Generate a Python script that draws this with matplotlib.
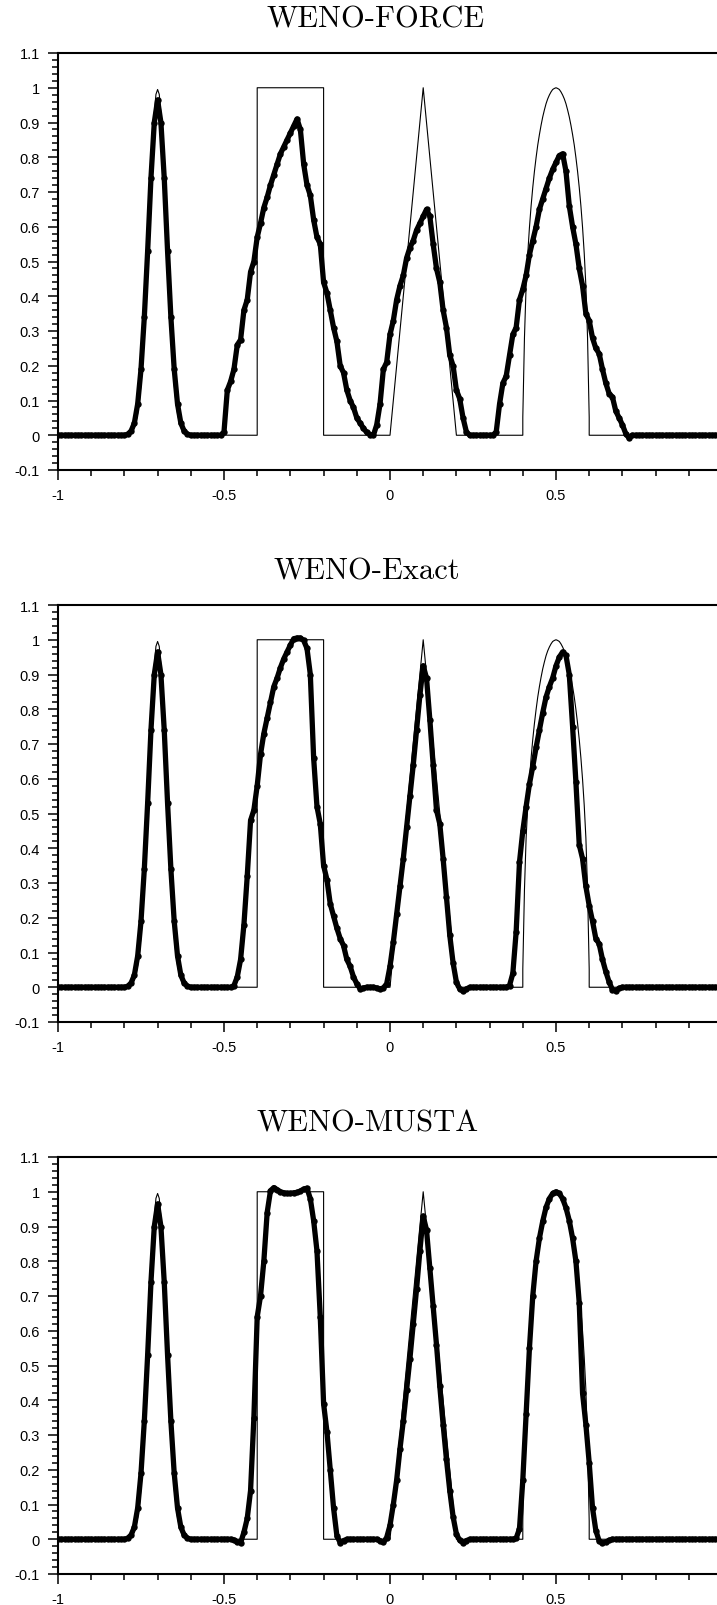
import numpy as np
import matplotlib
matplotlib.use('Agg')
import matplotlib.pyplot as plt
from matplotlib.ticker import MultipleLocator, FuncFormatter

plt.rcParams['font.family'] = ['Liberation Sans', 'DejaVu Sans']
plt.rcParams['axes.unicode_minus'] = False

# mesh of the numerical solution, -1 .. 1 step 0.01
x_grid = np.round(np.arange(201) * 0.01 - 1.0, 2)

titles = ['WENO-FORCE', 'WENO-Exact', 'WENO-MUSTA']

# exact solution
gauss_x = np.round(np.arange(41) * 0.005 - 0.8, 3)
gauss_exact = [0.0005, 0.001, 0.002, 0.0038, 0.0072, 0.013, 0.023, 0.039, 0.0625, 0.097,
               0.146, 0.21, 0.292, 0.389, 0.5, 0.618, 0.735, 0.841, 0.926, 0.981,
               0.995,
               0.981, 0.926, 0.841, 0.735, 0.618, 0.5, 0.389, 0.292, 0.21, 0.146,
               0.097, 0.0625, 0.039, 0.023, 0.013, 0.0072, 0.0038, 0.002, 0.001, 0.0005]
ellipse_x = np.round(np.arange(41) * 0.005 + 0.4, 3)
ellipse_exact = [0.052, 0.281, 0.430, 0.524, 0.598, 0.660, 0.713, 0.759, 0.799, 0.835,
                 0.865, 0.892, 0.916, 0.936, 0.954, 0.968, 0.979, 0.988, 0.995, 0.998,
                 1.0,
                 0.998, 0.995, 0.988, 0.979, 0.968, 0.954, 0.936, 0.916, 0.892, 0.865,
                 0.835, 0.799, 0.759, 0.713, 0.660, 0.598, 0.524, 0.430, 0.281, 0.052]
pieces_x = [-0.4, -0.4, -0.2, -0.2, 0.0, 0.1, 0.2, 0.4]
pieces_y = [0.0, 1.0, 1.0, 0.0, 0.0, 1.0, 0.0, 0.0]

exact_x = [-1.0] + list(gauss_x) + pieces_x + list(ellipse_x) + [0.6, 1.0]
exact_y = [0.0] + gauss_exact + pieces_y + ellipse_exact + [0.0, 0.0]

# numerical solutions, one value per mesh point
gauss_num = [0.0, 0.003, 0.012, 0.035, 0.09, 0.19, 0.34, 0.53, 0.74, 0.90,
             0.965,
             0.90, 0.74, 0.53, 0.34, 0.19, 0.09, 0.035, 0.012, 0.003, 0.0]

force = ([0.0] * 20 + gauss_num + [0.0] * 9 +
         # -0.50 .. -0.05
         [0.01, 0.13, 0.155, 0.19, 0.26, 0.275, 0.36, 0.39, 0.47, 0.50,
          0.57, 0.61, 0.655, 0.685, 0.72, 0.75, 0.78, 0.81, 0.83, 0.85,
          0.87, 0.89, 0.91, 0.88, 0.78, 0.72, 0.69, 0.62, 0.57, 0.55,
          0.44, 0.41, 0.36, 0.31, 0.27, 0.20, 0.18, 0.13, 0.10, 0.08,
          0.05, 0.035, 0.02, 0.008, 0.002, 0.0] +
         # -0.04 .. 0.23
         [0.03, 0.09, 0.19, 0.21, 0.29, 0.33, 0.39, 0.43, 0.46, 0.51,
          0.54, 0.56, 0.59, 0.61, 0.63, 0.65, 0.63, 0.55, 0.48, 0.44,
          0.36, 0.31, 0.23, 0.20, 0.13, 0.105, 0.05, 0.01] +
         [0.0] * 8 +
         # 0.32 .. 0.73
         [0.01, 0.09, 0.15, 0.17, 0.23, 0.29, 0.31, 0.39, 0.42, 0.46,
          0.52, 0.56, 0.60, 0.65, 0.68, 0.71, 0.74, 0.765, 0.785, 0.805,
          0.81, 0.76, 0.66, 0.60, 0.55, 0.48, 0.43, 0.35, 0.33, 0.28,
          0.25, 0.235, 0.19, 0.15, 0.12, 0.11, 0.07, 0.05, 0.03, 0.005,
          -0.008, 0.0] +
         [0.0] * 27)

exact_rs = ([0.0] * 20 + gauss_num + [0.0] * 12 +
            # -0.47 .. -0.02
            [0.005, 0.03, 0.08, 0.18, 0.32, 0.48, 0.51, 0.58, 0.67, 0.73,
             0.775, 0.82, 0.865, 0.89, 0.92, 0.945, 0.965, 0.985, 1.003, 1.005,
             1.005, 0.998, 0.975, 0.90, 0.66, 0.52, 0.47, 0.35, 0.31, 0.24,
             0.205, 0.17, 0.14, 0.12, 0.08, 0.06, 0.03, 0.01, -0.004, -0.002,
             0.0, 0.0, 0.0, -0.002, -0.005, -0.002] +
            # -0.01 .. 0.24
            [0.01, 0.06, 0.13, 0.21, 0.29, 0.37, 0.46, 0.55, 0.64, 0.74,
             0.84, 0.925, 0.89, 0.77, 0.64, 0.51, 0.47, 0.37, 0.26, 0.15,
             0.07, 0.015, -0.005, -0.01, -0.005, 0.0] +
            [0.0] * 11 +
            # 0.36 .. 0.69
            [0.005, 0.04, 0.16, 0.36, 0.45, 0.52, 0.585, 0.635, 0.69, 0.74,
             0.79, 0.835, 0.865, 0.89, 0.925, 0.95, 0.965, 0.955, 0.90, 0.75,
             0.59, 0.41, 0.37, 0.29, 0.235, 0.19, 0.14, 0.125, 0.08, 0.045,
             0.015, -0.007, -0.01, -0.003] +
            [0.0] * 31)

musta = ([0.0] * 20 + gauss_num + [0.0] * 12 +
         # -0.47 .. -0.14
         [-0.002, -0.008, -0.01, 0.02, 0.06, 0.14, 0.35, 0.64, 0.70, 0.80,
          0.94, 1.003, 1.012, 1.006, 1.0, 0.997, 0.995, 0.995, 0.997, 0.998,
          1.002, 1.008, 1.01, 0.98, 0.917, 0.83, 0.64, 0.39, 0.31, 0.20,
          0.09, 0.01, -0.01, -0.004] +
         [0.0] * 10 +
         # -0.03 .. 0.24
         [-0.004, -0.009, 0.005, 0.04, 0.10, 0.17, 0.26, 0.34, 0.43, 0.52,
          0.62, 0.72, 0.83, 0.93, 0.89, 0.78, 0.67, 0.56, 0.44, 0.33,
          0.23, 0.14, 0.065, 0.015, -0.003, -0.01, -0.004, 0.0] +
         [0.0] * 13 +
         # 0.38 .. 0.66
         [0.003, 0.03, 0.17, 0.36, 0.55, 0.70, 0.80, 0.866, 0.915, 0.955,
          0.98, 0.995, 1.0, 0.995, 0.98, 0.954, 0.917, 0.866, 0.80, 0.68,
          0.42, 0.33, 0.22, 0.09, 0.025, -0.005, -0.011, -0.008, -0.003] +
         [0.0] * 34)

numerical = [force, exact_rs, musta]
for series in numerical:
    assert len(series) == len(x_grid), len(series)

W, H = 717, 1606
fig = plt.figure(figsize=(W / 100, H / 100), dpi=100)

panel_top = [54, 606, 1158]
panel_h = 417
title_cx = [376, 367, 368]


def fmt(v, pos):
    if abs(v) < 1e-9:
        return '0'
    if v > 0.999 and v < 1.001 and pos is not None and pos >= 4:
        return ''
    return '%g' % round(v, 2)


def fmt_x(v, pos):
    # label at x = 1 falls outside the picture
    if v > 0.999:
        return ''
    return fmt(v, None)


for k in range(3):
    top = panel_top[k]
    ax = fig.add_axes([58 / W, (H - top - panel_h) / H, 664 / W, panel_h / H])
    ax.plot(exact_x, exact_y, color='black', lw=0.8, zorder=2)
    ax.plot(x_grid, numerical[k], color='black', lw=3.8, marker='o', ms=4.6,
            mew=0, zorder=3)
    ax.set_xlim(-1, 1)
    ax.set_ylim(-0.1, 1.1)
    ax.xaxis.set_major_locator(MultipleLocator(0.5))
    ax.xaxis.set_minor_locator(MultipleLocator(0.1))
    ax.yaxis.set_major_locator(MultipleLocator(0.1))
    ax.yaxis.set_minor_locator(MultipleLocator(0.02))
    ax.xaxis.set_major_formatter(FuncFormatter(fmt_x))
    ax.yaxis.set_major_formatter(FuncFormatter(lambda v, p: fmt(v, None)))
    ax.tick_params(which='both', direction='out', top=False, right=False, width=1.1)
    ax.tick_params(which='major', length=7, pad=6, labelsize=10.5)
    ax.tick_params(which='minor', length=4.5)
    for s in ax.spines.values():
        s.set_linewidth(1.5)
    fig.text(title_cx[k] / W, 1 - (top - 26) / H, titles[k], ha='center',
             va='baseline', fontsize=22, family='cmr10')

fig.savefig('out.png', dpi=100)
